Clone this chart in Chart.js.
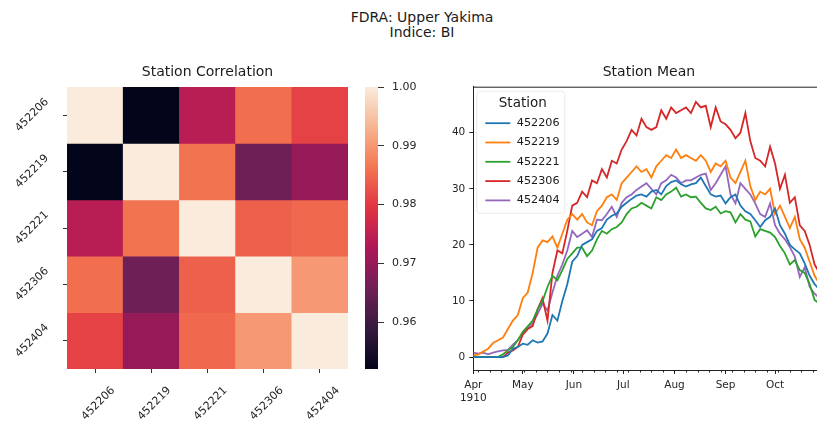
<!DOCTYPE html>
<html><head><meta charset="utf-8">
<script src="https://cdn.jsdelivr.net/npm/chart.js@4/dist/chart.umd.min.js"></script>
<style>
html,body{margin:0;padding:0;background:#fff;width:817px;height:424px;overflow:hidden;}
.c{position:absolute;left:0;top:0;}
#sup{position:absolute;left:0;top:10px;width:844px;text-align:center;font-family:'DejaVu Sans',sans-serif;font-size:14px;line-height:15px;color:#1a1a1a;}
</style></head><body>
<div id="sup">FDRA: Upper Yakima<br>Indice: BI</div>
<canvas class="c" id="heat" width="817" height="424"></canvas>
<canvas class="c" id="cbar" width="817" height="424"></canvas>
<canvas class="c" id="line" width="830" height="424"></canvas>
<script>
// ---------- data ----------
const stations = ['452206', '452219', '452221', '452306', '452404'];

// correlation matrix rows
const r452206 = [1.000, 0.952, 0.974, 0.9855, 0.981];
const r452219 = [0.952, 1.000, 0.986, 0.9655, 0.970];
const r452221 = [0.974, 0.986, 1.000, 0.984, 0.985];
const r452306 = [0.9855, 0.9655, 0.984, 1.000, 0.990];
const r452404 = [0.981, 0.970, 0.985, 0.990, 1.000];
const cbarTicks = [0.96, 0.97, 0.98, 0.99, 1.00];

// station mean series: days since 1910-04-01, every 3 days
const sampleDays = [];
for (let d = 0; d <= 210; d += 3) sampleDays.push(d);
const s452206 = [0,0,0,0,0,0,0,0.3,1.5,1.8, 2.4,2.2,3,2.6,2.8,4.2,7.5,6.5,10,13,
  17,18,20,20.5,21,22.5,23,24.5,25.2,25.6, 26.8,27.5,28.2,28.8,29,28.6,29.5,29.8,29,30.5,
  31.2,31.5,30.8,30.4,30.8,31,32,30.5,29,28.6, 28.8,27.4,28.5,29,27,26,25.5,24.4,23.2,24.4,
  25,26.5,23.5,22,20,19.2,18.5,16.7,14.5,13, 12];
const s452219 = [0.3,0.5,1.0,1.5,2.5,3,3.5,5.0,6.5,7.5, 10.5,11.5,15,19.5,20.8,20.5,21.5,19.5,22,24.5,
  25.5,24.5,25.5,24,23.5,26,27,28.5,29,28, 31,32,33,34,33,33.5,32,34,35,36,
  35.5,37,35.5,36,35.5,35,36,35,33,34.5, 34,35,32,31,33,35,30.5,28,29.5,29,
  30,25.5,27,25,23,25,21,19.5,17,14.5, 13];
const s452221 = [0,0,0,0,0,0,0.5,1.2,1.8,3.0, 4.5,5.5,6.5,8.5,10,12.5,14.5,13.7,15.5,17.5,
  18.5,19.5,19.5,18,19,21,22.5,22,22.8,23.2, 24,25.5,26.5,26.8,27.5,27,26.5,28.5,28,29,
  29.5,30.2,28.6,29,28.5,28.6,27.5,26.5,26.2,26.8, 25.6,26,25.8,24,25.5,24.5,24.2,21.5,22.8,22.5,
  22.2,21.4,19.8,18.5,16.5,17.3,15.5,15,13,10.2, 9.5];
const s452306 = [0,0,0,0,0,0,0,0.8,1.2,1.8, 4.0,5.0,5.5,8.5,10.5,6.5,15,19,18.5,22.5,
  27,27.5,29.5,28.5,31.5,31,33.5,32,35,34.5, 37,38.5,40.5,39.5,42.5,41,40.5,41,44,42.5,
  44.5,43.5,44,44.5,43.5,45.5,44.5,44.8,41,44.5, 42,41.5,40.5,39,40,43.5,38.5,35.5,35,34,
  37.5,34.5,30,32.5,27.5,28.5,23.5,22.5,20,16.5, 15];
const s452404 = [0.8,0.6,0.8,0.5,0.8,1,1.2,1.3,2.2,3, 4.2,5.2,6,7.7,9.5,8.3,11.5,14.5,16.5,19,
  22.5,21.4,22,22.6,21.4,24.5,24.4,25.5,26.8,25, 27.5,28.5,29,29.8,30.4,31,30,29,31,31.5,
  32.5,32,31,31.5,31.5,32,32.5,32.7,29.8,31, 32.5,34,29,27.4,31,30,29,27.4,25.5,25,
  27.4,23.5,22,21,19.6,17.9,14.3,16,12.5,11.3, 10.5];

const monthNames = ['Apr', 'May', 'Jun', 'Jul', 'Aug', 'Sep', 'Oct'];
const monthStartDays = [0, 30, 61, 91, 122, 153, 183];
const yearLabel = '1910';
const meanTicks = [0, 10, 20, 30, 40];
const lastDay = 213;

// ---------- helpers ----------
const FONT = "'DejaVu Sans', sans-serif";
const TXT = '#262626';
const rocketStops = [[0,'#03051a'],[1/7,'#35193e'],[2/7,'#701f57'],[3/7,'#ad1759'],
  [4/7,'#e13342'],[5/7,'#f37651'],[6/7,'#f6b48f'],[1,'#faebdd']];
function hex2rgb(h){return [1,3,5].map(i=>parseInt(h.substr(i,2),16));}
function rocket(t){
  t = Math.max(0, Math.min(1, t));
  for (let i = 1; i < rocketStops.length; i++) {
    if (t <= rocketStops[i][0]) {
      const [t0,c0] = rocketStops[i-1], [t1,c1] = rocketStops[i];
      const f = (t - t0) / (t1 - t0);
      const a = hex2rgb(c0), b = hex2rgb(c1);
      const c = a.map((v,k)=>Math.round(v + (b[k]-v)*f));
      return `rgb(${c[0]},${c[1]},${c[2]})`;
    }
  }
  return rocketStops[rocketStops.length-1][1];
}

const corrRows = [r452206, r452219, r452221, r452306, r452404];
const vmin = Math.min(...corrRows.flat());
const vmax = 1.0;

// ---------- heatmap ----------
new Chart(document.getElementById('heat'), {
  type: 'bar',
  data: {
    labels: stations,
    datasets: corrRows.map((row, r) => ({
      label: stations[r],
      data: row.map(() => [r, r + 1]),
      backgroundColor: row.map(v => rocket((v - vmin) / (vmax - vmin))),
      borderWidth: 0,
      barPercentage: 1, categoryPercentage: 1, grouped: false
    }))
  },
  options: {
    responsive: false, animation: false, events: [],
    layout: {padding: {left: 0, top: 64.2, right: 469, bottom: 0}},
    plugins: {
      legend: {display: false}, tooltip: {enabled: false},
      title: {display: true, text: 'Station Correlation', fullSize: false, color: '#1a1a1a',
        font: {family: FONT, size: 14, weight: 'normal'}, padding: {top: 0, bottom: 6}}
    },
    scales: {
      x: {
        offset: true,
        grid: {offset: false, drawOnChartArea: false, tickLength: 4, color: '#333'},
        border: {display: false},
        ticks: {minRotation: 45, maxRotation: 45, autoSkip: false, labelOffset: 18, padding: 11,
          color: TXT, font: {family: FONT, size: 11}},
        afterFit: s => { s.height = 55; }
      },
      y: {
        type: 'linear', min: 0, max: 5, reverse: true,
        afterBuildTicks: s => { s.ticks = stations.map((_, i) => ({value: i + 0.5})); },
        grid: {drawOnChartArea: false, tickLength: 4, color: '#333'},
        border: {display: false},
        ticks: {minRotation: 45, maxRotation: 45, labelOffset: -15, padding: 16, color: TXT,
          font: {family: FONT, size: 11}, callback: v => stations[Math.floor(v)]},
        afterFit: s => { s.width = 67; }
      }
    }
  }
});

// ---------- colorbar ----------
new Chart(document.getElementById('cbar'), {
  type: 'bar',
  data: {labels: [''], datasets: [{
    data: [[vmin, vmax]],
    backgroundColor: ctx => {
      const ch = ctx.chart, area = ch.chartArea;
      if (!area) return 'rgba(0,0,0,0)';
      const g = ch.ctx.createLinearGradient(0, area.bottom, 0, area.top);
      for (let i = 0; i <= 40; i++) g.addColorStop(i / 40, rocket(i / 40));
      return g;
    },
    borderWidth: 0, barPercentage: 1, categoryPercentage: 1
  }]},
  options: {
    responsive: false, animation: false, events: [],
    layout: {padding: {left: 365, top: 87, right: 394, bottom: 55}},
    plugins: {legend: {display: false}, tooltip: {enabled: false}},
    scales: {
      x: {display: false},
      y: {
        position: 'right', min: vmin, max: vmax,
        afterBuildTicks: s => { s.ticks = cbarTicks.map(v => ({value: v})); },
        grid: {drawOnChartArea: false, tickLength: 6, color: '#333'},
        border: {display: false},
        ticks: {padding: 8, color: TXT, font: {family: FONT, size: 11}, callback: v => v.toFixed(2)},
        afterFit: s => { s.width = 45; }
      }
    }
  }
});

// ---------- line chart ----------
const seriesList = [s452206, s452219, s452221, s452306, s452404];
const seriesColors = ['#1f77b4', '#ff7f0e', '#2ca02c', '#d62728', '#9467bd'];

const framePlugin = {
  id: 'frame',
  afterDraw(chart) {
    const {ctx, chartArea: a, scales} = chart;
    ctx.save();
    ctx.strokeStyle = '#222'; ctx.lineWidth = 1;
    ctx.beginPath();
    ctx.moveTo(a.left, a.top + 0.5); ctx.lineTo(a.right, a.top + 0.5);
    ctx.moveTo(a.right - 0.5, a.top); ctx.lineTo(a.right - 0.5, a.bottom);
    ctx.stroke();
    // weekly minor ticks (Mondays)
    const xs = scales.x;
    ctx.beginPath();
    for (let d = 3; d <= lastDay; d += 7) {
      const px = Math.round(xs.getPixelForValue(d)) + 0.5;
      ctx.moveTo(px, a.bottom); ctx.lineTo(px, a.bottom + 2.5);
    }
    ctx.stroke();
    ctx.restore();
  }
};

const legendPlugin = {
  id: 'stationLegend',
  afterDatasetsDraw(chart) {
    const {ctx, chartArea: a} = chart;
    ctx.save();
    ctx.fillStyle = 'rgba(255,255,255,0.8)';
    ctx.strokeStyle = 'rgba(220,220,220,0.6)';
    ctx.lineWidth = 1;
    ctx.beginPath();
    ctx.roundRect(a.left + 3.5, a.top + 4.5, 88, 122, 3);
    ctx.fill(); ctx.stroke();
    ctx.fillStyle = '#1a1a1a';
    ctx.textBaseline = 'middle';
    ctx.textAlign = 'center';
    ctx.font = `13.5px ${FONT}`;
    ctx.fillText('Station', a.left + 49.5, a.top + 16.5);
    ctx.textAlign = 'left';
    ctx.font = `11.2px ${FONT}`;
    chart.data.datasets.forEach((ds, i) => {
      const y = a.top + 36.5 + i * 19.3;
      ctx.strokeStyle = ds.borderColor; ctx.lineWidth = 1.8;
      ctx.beginPath(); ctx.moveTo(a.left + 12, y); ctx.lineTo(a.left + 37, y); ctx.stroke();
      ctx.fillStyle = '#1a1a1a';
      ctx.fillText(ds.label, a.left + 43.5, y);
    });
    ctx.restore();
  }
};

new Chart(document.getElementById('line'), {
  type: 'line',
  data: {
    datasets: seriesList.map((s, i) => ({
      label: stations[i],
      data: s.map((v, j) => ({x: sampleDays[j], y: v})),
      borderColor: seriesColors[i], borderWidth: 1.8,
      pointRadius: 0, tension: 0, fill: false
    }))
  },
  options: {
    responsive: false, animation: false, events: [],
    layout: {padding: {left: 440, top: 63.7, right: 5.5, bottom: 0}},
    plugins: {
      legend: {display: false}, tooltip: {enabled: false},
      title: {display: true, text: 'Station Mean', fullSize: false, color: '#1a1a1a',
        font: {family: FONT, size: 14, weight: 'normal'}, padding: {top: 0, bottom: 6.2}}
    },
    scales: {
      x: {
        type: 'linear', min: 0, max: lastDay,
        afterBuildTicks: s => { s.ticks = monthStartDays.map(v => ({value: v})); },
        grid: {drawOnChartArea: false, tickLength: 4, color: '#222'},
        border: {display: true, color: '#222', width: 1},
        ticks: {maxRotation: 0, autoSkip: false, padding: 5, color: TXT, font: {family: FONT, size: 10.5},
          callback: (v, i) => i === 0 ? [monthNames[0], yearLabel] : monthNames[i]},
        afterFit: s => { s.height = 54; }
      },
      y: {
        min: -2.3, max: 48.2,
        afterBuildTicks: s => { s.ticks = meanTicks.map(v => ({value: v})); },
        grid: {drawOnChartArea: false, tickLength: 4, color: '#222'},
        border: {display: true, color: '#222', width: 1},
        ticks: {padding: 4, color: TXT, font: {family: FONT, size: 10.5}},
        afterFit: s => { s.width = 33.3; }
      }
    }
  },
  plugins: [framePlugin, legendPlugin]
});
</script>
</body></html>
